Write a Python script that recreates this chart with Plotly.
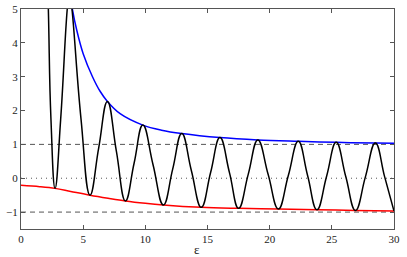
import plotly.graph_objects as go

# black oscillating curve (eps, value)
black_x = [2.0, 2.2, 2.41, 2.74, 3.19, 3.72, 3.9, 4.1, 4.83, 5.55, 6.25, 6.95, 7.67, 8.4,
           9.1, 9.8, 10.62, 11.45, 12.2, 12.93, 13.7, 14.5, 15.25, 16.0, 16.77, 17.5,
           18.28, 19.05, 19.88, 20.7, 21.5, 22.3, 23.05, 23.8, 24.58, 25.35, 26.12, 26.9,
           27.7, 28.5, 29.25, 30.0]
black_y = [7.8, 5.0, 1.74, -0.30, 1.74, 5.0, 5.6, 5.0, 1.74, -0.50, 0.9, 2.27, 0.8, -0.67,
           0.45, 1.57, 0.4, -0.79, 0.27, 1.32, 0.23, -0.86, 0.17, 1.20, 0.16, -0.89,
           0.12, 1.13, 0.11, -0.91, 0.08, 1.09, 0.08, -0.93, 0.06, 1.06, 0.05, -0.95,
           0.04, 1.04, 0.04, -0.97]

# blue upper envelope
blue_x = [3.9, 4.13, 4.5, 5.0, 5.75, 6.36, 6.95, 8.0, 9.8, 11.3, 12.93, 16.0, 19.05,
          22.3, 25.35, 28.5, 30.0]
blue_y = [5.6, 5.0, 4.35, 3.68, 3.0, 2.57, 2.27, 1.9, 1.57, 1.42, 1.32, 1.20, 1.13,
          1.09, 1.06, 1.04, 1.035]

# red lower envelope
red_x = [0.0, 1.5, 2.74, 4.0, 5.55, 7.0, 8.4, 10.0, 11.45, 14.5, 17.5, 20.7, 23.8, 26.9, 30.0]
red_y = [-0.21, -0.25, -0.30, -0.39, -0.50, -0.59, -0.67, -0.74, -0.79, -0.86, -0.89,
         -0.91, -0.93, -0.95, -0.97]

ref_x = [0, 30]
dash_levels = [1, -1]
dot_level = 0
x_title = "ε"

SERIF = "Times New Roman, Liberation Serif, serif"

fig = go.Figure()
for lv in dash_levels:
    fig.add_trace(go.Scatter(x=ref_x, y=[lv, lv], mode="lines",
                             line=dict(color="#555555", width=1, dash="5px,4px"),
                             hoverinfo="skip"))
fig.add_trace(go.Scatter(x=ref_x, y=[dot_level, dot_level], mode="lines",
                         line=dict(color="#555555", width=1, dash="1px,4px"),
                         hoverinfo="skip"))
fig.add_trace(go.Scatter(x=red_x, y=red_y, mode="lines",
                         line=dict(color="#ff0000", width=1.5, shape="spline")))
fig.add_trace(go.Scatter(x=blue_x, y=blue_y, mode="lines",
                         line=dict(color="#0000ff", width=1.5, shape="spline")))
fig.add_trace(go.Scatter(x=black_x, y=black_y, mode="lines",
                         line=dict(color="#000000", width=1.5, shape="spline", smoothing=1.3)))

axis_common = dict(showgrid=False, zeroline=False, showline=True, linecolor="#555555",
                   linewidth=1, mirror="ticks", ticks="inside", ticklen=4,
                   tickcolor="#555555", automargin=False,
                   tickfont=dict(family=SERIF, size=11, color="#222222"))
fig.update_xaxes(range=[0, 30], dtick=5, tick0=0, **axis_common)
fig.update_yaxes(range=[-1.5, 5], dtick=1, tick0=0, **axis_common)

fig.add_annotation(text=x_title, xref="paper", yref="paper", x=0.472, y=-0.092,
                   xanchor="center", yanchor="middle", showarrow=False,
                   font=dict(family=SERIF, size=13, color="#222222"))

fig.update_layout(width=407, height=257, showlegend=False,
                  margin=dict(l=21, r=13, t=9, b=28),
                  plot_bgcolor="white", paper_bgcolor="white")

fig.write_html("out.html", config={"displayModeBar": False},
               post_script="document.body.style.margin='0';document.body.style.overflow='hidden';")
